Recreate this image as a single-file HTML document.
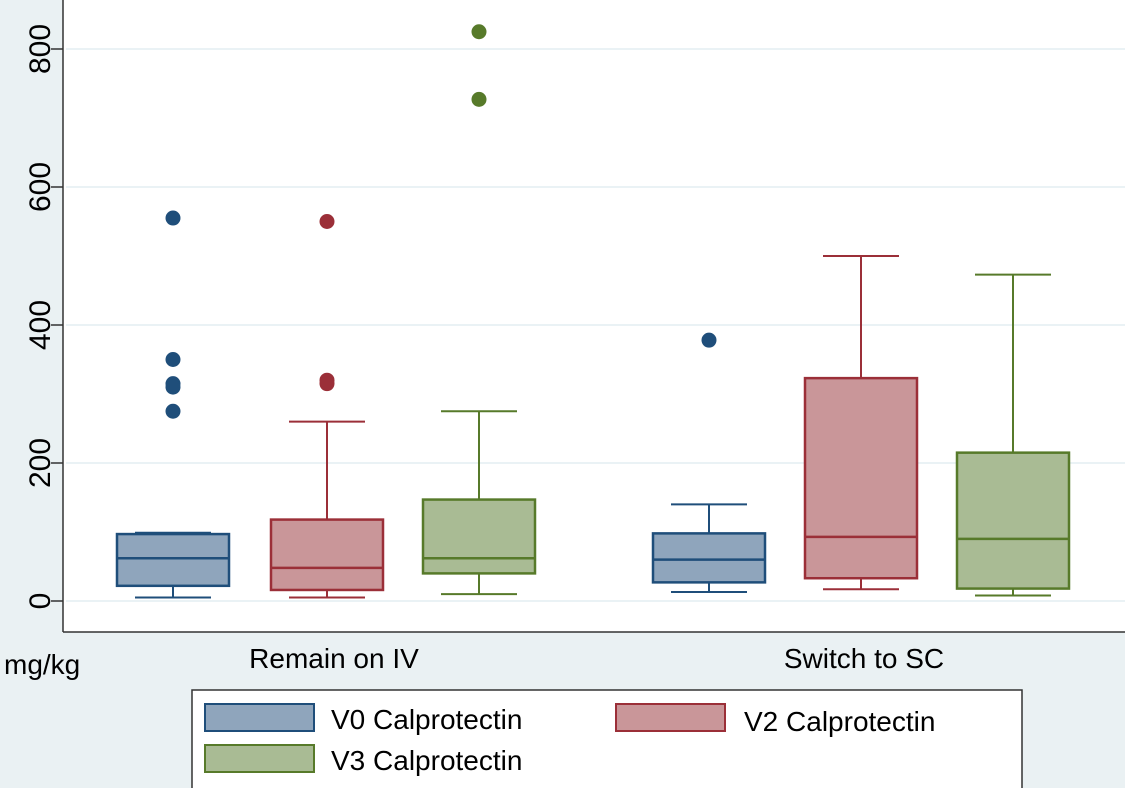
<!DOCTYPE html>
<html><head><meta charset="utf-8"><style>
html,body{margin:0;padding:0;background:#eaf1f3;}
svg{display:block;font-family:"Liberation Sans",Arial,sans-serif;}
</style></head><body>
<svg id="chart" width="1125" height="788" viewBox="0 0 1125 788">
<rect x="0" y="0" width="1125" height="788" fill="#eaf1f3"/>
<rect x="63" y="0" width="1062" height="632" fill="#ffffff"/>
<g id="grid"></g>
<g id="boxes"></g>
<line x1="63" y1="0" x2="63" y2="632" stroke="#333" stroke-width="1.5"/>
<line x1="63" y1="632" x2="1125" y2="632" stroke="#333" stroke-width="1.5"/>
<g id="yticks"></g>
<text x="4" y="674" font-size="28" fill="#000">mg/kg</text>
<text x="334" y="668" font-size="28" text-anchor="middle" fill="#000">Remain on IV</text>
<text x="864" y="668" font-size="28" text-anchor="middle" fill="#000">Switch to SC</text>
<g>
<rect x="192" y="690" width="830" height="110" fill="#fff" stroke="#333" stroke-width="1.5"/>
<g><rect x="205" y="704" width="109" height="27" fill="#8fa5bc" stroke="#1f4e7a" stroke-width="2"/><text x="331" y="729" font-size="28">V0 Calprotectin</text></g>
<g><rect x="616" y="704" width="109" height="27" fill="#c99699" stroke="#9b2f38" stroke-width="2"/><text x="744" y="731" font-size="28">V2 Calprotectin</text></g>
<g><rect x="205" y="745" width="109" height="27" fill="#a9bb94" stroke="#577a2a" stroke-width="2"/><text x="331" y="770" font-size="28">V3 Calprotectin</text></g>
</g>
</svg>
<script>
const yTicks=[0,200,400,600,800];
const boxCenters=[173,327,479,709,861,1013];
const seriesNames=["v0-iv","v2-iv","v3-iv","v0-sc","v2-sc","v3-sc"];
const lowerWhisker=[5,5,10,13,17,8];
const q1=[22,16,40,27,33,18];
const median=[62,48,62,60,93,90];
const q3=[97,118,147,98,323,215];
const upperWhisker=[99,260,275,140,500,473];
const outliers=[[555,350,315,310,275],[550,320,315],[825,727],[378],[],[]];
const fills=["#8fa5bc","#c99699","#a9bb94","#8fa5bc","#c99699","#a9bb94"];
const strokes=["#1f4e7a","#9b2f38","#577a2a","#1f4e7a","#9b2f38","#577a2a"];
const NS="http://www.w3.org/2000/svg";
const y=v=>601-v*0.69;
function mk(tag,attrs,parent){const e=document.createElementNS(NS,tag);for(const k in attrs)e.setAttribute(k,attrs[k]);parent.appendChild(e);return e;}
const grid=document.getElementById('grid'),yt=document.getElementById('yticks'),bx=document.getElementById('boxes');
yTicks.forEach(t=>{
 const g=mk('line',{x1:66,x2:1125,y1:y(t),y2:y(t),stroke:'#e3eef2','stroke-width':1.5},grid);
 
 
 const tk=mk('line',{x1:51,x2:63,y1:y(t),y2:y(t),stroke:'#333','stroke-width':1.5},yt);
 
 
 const tx=mk('text',{x:0,y:0,'font-size':30,'text-anchor':'middle',transform:`translate(50,${y(t)}) rotate(-90)`},yt);
 tx.textContent=t;
 
 
});
const hw=56,cw=56;
boxCenters.forEach((c,i)=>{
 const g=mk('g',{},bx);
 
 
 const s=strokes[i];
 mk('line',{x1:c,x2:c,y1:y(q3[i]),y2:y(upperWhisker[i]),stroke:s,'stroke-width':2},g);
 mk('line',{x1:c,x2:c,y1:y(q1[i]),y2:y(lowerWhisker[i]),stroke:s,'stroke-width':2},g);
 mk('line',{x1:c-cw/2-10,x2:c+cw/2+10,y1:y(upperWhisker[i]),y2:y(upperWhisker[i]),stroke:s,'stroke-width':2},g);
 mk('line',{x1:c-cw/2-10,x2:c+cw/2+10,y1:y(lowerWhisker[i]),y2:y(lowerWhisker[i]),stroke:s,'stroke-width':2},g);
 mk('rect',{x:c-hw,y:y(q3[i]),width:hw*2,height:y(q1[i])-y(q3[i]),fill:fills[i],stroke:s,'stroke-width':2.5},g);
 mk('line',{x1:c-hw,x2:c+hw,y1:y(median[i]),y2:y(median[i]),stroke:s,'stroke-width':2.5},g);
 outliers[i].forEach(v=>{
  const p=mk('circle',{cx:c,cy:y(v),r:7.5,fill:s},g);
  
  
 });
});
</script>
</body></html>
